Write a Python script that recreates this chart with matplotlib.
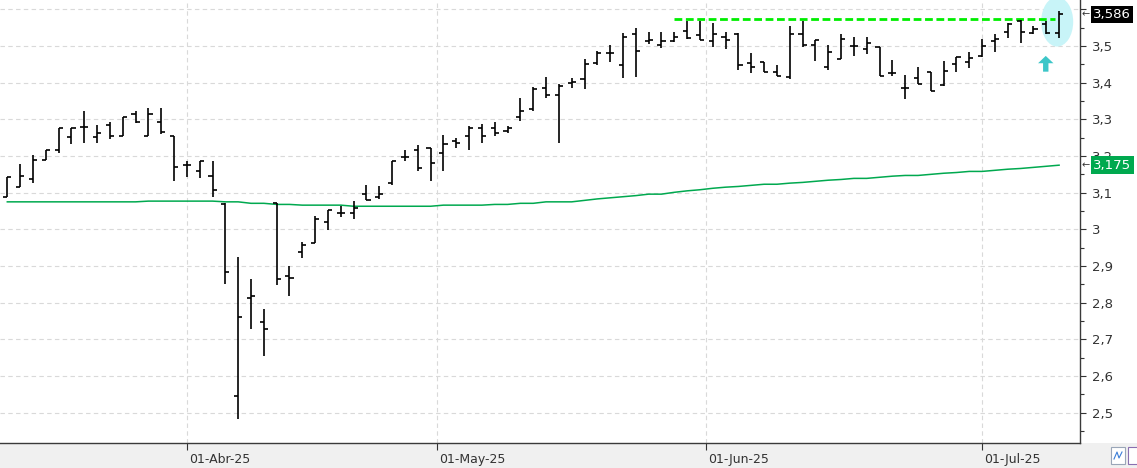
import matplotlib
matplotlib.use('Agg')
import matplotlib.pyplot as plt
import matplotlib.transforms as mtransforms
from matplotlib.patches import Ellipse, FancyArrow, Rectangle
from matplotlib.ticker import MultipleLocator, FixedLocator, FuncFormatter
import numpy as np
import pandas as pd

plt.rcParams['font.family'] = ['Liberation Sans Narrow', 'DejaVu Sans']

# ---------------- data ----------------
holidays = ['2025-04-18', '2025-04-21', '2025-05-01']
dates = pd.bdate_range('2025-03-12', '2025-07-09')
dates = dates[~dates.isin(pd.to_datetime(holidays))]

opens = [3.087, 3.116, 3.137, 3.188, 3.216, 3.251, 3.278, 3.251, 3.285, 3.254,
         3.315, 3.254, 3.292, 3.254, 3.175, 3.159, 3.145, 3.069, 2.545, 2.813,
         2.746, 3.071, 2.872, 2.937, 2.962, 3.019, 3.044, 3.044, 3.096, 3.088,
         3.126, 3.196, 3.216, 3.221, 3.207, 3.241, 3.254, 3.276, 3.276, 3.267,
         3.306, 3.327, 3.385, 3.366, 3.398, 3.409, 3.453, 3.480, 3.447, 3.533,
         3.514, 3.502, 3.513, 3.542, 3.530, 3.514, 3.524, 3.533, 3.453, 3.456,
         3.429, 3.416, 3.532, 3.503, 3.444, 3.464, 3.501, 3.491, 3.496, 3.426,
         3.385, 3.412, 3.428, 3.394, 3.450, 3.457, 3.473, 3.514, 3.537, 3.568,
         3.536, 3.560, 3.535]
highs = [3.142, 3.178, 3.202, 3.216, 3.276, 3.276, 3.323, 3.285, 3.292, 3.306,
         3.323, 3.330, 3.330, 3.254, 3.186, 3.186, 3.186, 3.071, 2.924, 2.865,
         2.783, 3.071, 2.900, 2.965, 3.036, 3.052, 3.064, 3.078, 3.121, 3.118,
         3.186, 3.216, 3.230, 3.221, 3.256, 3.248, 3.282, 3.287, 3.293, 3.282,
         3.358, 3.387, 3.416, 3.396, 3.412, 3.464, 3.487, 3.504, 3.535, 3.548,
         3.537, 3.537, 3.537, 3.569, 3.569, 3.562, 3.537, 3.535, 3.481, 3.456,
         3.447, 3.555, 3.569, 3.516, 3.504, 3.533, 3.525, 3.524, 3.496, 3.461,
         3.421, 3.442, 3.428, 3.458, 3.471, 3.484, 3.518, 3.532, 3.564, 3.571,
         3.555, 3.568, 3.595]
lows = [3.087, 3.116, 3.126, 3.188, 3.209, 3.232, 3.235, 3.236, 3.246, 3.254,
        3.291, 3.254, 3.259, 3.131, 3.142, 3.141, 3.089, 2.851, 2.484, 2.729,
        2.655, 2.849, 2.819, 2.923, 2.962, 2.999, 3.033, 3.027, 3.079, 3.082,
        3.120, 3.186, 3.160, 3.133, 3.160, 3.223, 3.216, 3.236, 3.255, 3.264,
        3.296, 3.323, 3.359, 3.236, 3.385, 3.384, 3.447, 3.456, 3.414, 3.416,
        3.505, 3.494, 3.511, 3.519, 3.515, 3.496, 3.493, 3.435, 3.426, 3.430,
        3.417, 3.409, 3.496, 3.460, 3.434, 3.464, 3.474, 3.477, 3.417, 3.419,
        3.355, 3.396, 3.377, 3.391, 3.430, 3.439, 3.471, 3.484, 3.521, 3.507,
        3.532, 3.532, 3.521]
closes = [3.142, 3.145, 3.188, 3.216, 3.276, 3.276, 3.278, 3.262, 3.255, 3.306,
          3.292, 3.315, 3.266, 3.169, 3.175, 3.186, 3.106, 2.883, 2.761, 2.817,
          2.727, 2.864, 2.867, 2.956, 3.028, 3.052, 3.044, 3.057, 3.079, 3.096,
          3.186, 3.196, 3.167, 3.180, 3.232, 3.235, 3.276, 3.254, 3.264, 3.276,
          3.322, 3.383, 3.366, 3.392, 3.402, 3.451, 3.482, 3.480, 3.524, 3.486,
          3.516, 3.513, 3.524, 3.523, 3.516, 3.533, 3.516, 3.448, 3.442, 3.430,
          3.417, 3.532, 3.503, 3.516, 3.483, 3.520, 3.501, 3.508, 3.417, 3.426,
          3.385, 3.396, 3.377, 3.433, 3.469, 3.466, 3.501, 3.519, 3.560, 3.537,
          3.546, 3.535, 3.586]
moving_avg = [3.075, 3.075, 3.075, 3.075, 3.075, 3.075, 3.075, 3.075, 3.075, 3.075,
              3.075, 3.077, 3.077, 3.077, 3.077, 3.077, 3.077, 3.075, 3.075, 3.071,
              3.071, 3.068, 3.068, 3.066, 3.066, 3.066, 3.066, 3.063, 3.063, 3.063,
              3.063, 3.063, 3.063, 3.063, 3.066, 3.066, 3.066, 3.066, 3.068, 3.068,
              3.071, 3.071, 3.075, 3.075, 3.075, 3.079, 3.083, 3.086, 3.089, 3.092,
              3.096, 3.096, 3.101, 3.105, 3.108, 3.112, 3.115, 3.117, 3.120, 3.123,
              3.123, 3.126, 3.128, 3.131, 3.134, 3.136, 3.139, 3.139, 3.142, 3.145,
              3.147, 3.147, 3.150, 3.153, 3.155, 3.158, 3.158, 3.161, 3.164, 3.166,
              3.169, 3.172, 3.175]

month_starts = ['2025-04-01', '2025-05-01', '2025-06-01', '2025-07-01']
month_labels = ['01-Abr-25', '01-May-25', '01-Jun-25', '01-Jul-25']

resistance_level = 3.574
resistance_from = '2025-05-28'

# ---------------- figure ----------------
W, H = 1137, 468
BOT = 25
fig = plt.figure(figsize=(W / 100, H / 100), dpi=100, facecolor='white')
fig.patches.append(Rectangle((0, 0), 1, BOT / H, transform=fig.transFigure,
                             fc='#f0f0f0', ec='none', zorder=-5))
ax = fig.add_axes([0, BOT / H, 1080 / W, 1 - BOT / H])
ax.set_facecolor('white')

n = len(opens)
x = np.arange(n)

# month tick positions (between bars if month start is not a trading day)
month_pos = []
for m in pd.to_datetime(month_starts):
    k = dates.searchsorted(m)
    month_pos.append(k if (k < n and dates[k] == m) else k - 0.5)

# light cyan highlight ellipse around the last bar
ax.add_patch(Ellipse((n - 1.15, 3.566), width=2.5, height=0.135,
                     fc='#c8f4f8', ec='none', zorder=1))

# moving average
ax.plot(x, moving_avg, color='#00a94f', lw=1.1, zorder=2)

# resistance dashed line
r0 = dates.searchsorted(pd.Timestamp(resistance_from))
ax.plot([r0, n - 1.3], [resistance_level, resistance_level], color='#00ee00',
        lw=2.0, dashes=(2.8, 1.3), zorder=2, solid_capstyle='butt')

# OHLC bars
lw = 1.2
ax.vlines(x, lows, highs, color='black', lw=lw, zorder=3)
ax.hlines(opens, x - 0.32, x, color='black', lw=lw, zorder=3)
ax.hlines(closes, x, x + 0.32, color='black', lw=lw, zorder=3)

# cyan arrow
ax.add_patch(FancyArrow(n - 2.04, 3.430, 0, 0.043, width=0.42, head_width=1.2,
                        head_length=0.02, length_includes_head=True,
                        fc='#3cc6c8', ec='none', zorder=4))

# axes limits
ax.set_xlim(-0.57, 83.63)
ax.set_ylim(3.5 - (H - BOT - 46) / 366.7, 3.5 + 46 / 366.7)

# spines
for s in ['left', 'top']:
    ax.spines[s].set_visible(False)
ax.spines['right'].set_color('#3a3a3a')
ax.spines['bottom'].set_color('#3a3a3a')
ax.spines['right'].set_linewidth(1.0)
ax.spines['bottom'].set_linewidth(1.0)

# y axis on right
ax.yaxis.tick_right()
ax.yaxis.set_major_locator(MultipleLocator(0.1))
ax.yaxis.set_minor_locator(MultipleLocator(0.05))


def yfmt(v, pos):
    if v > 3.55:
        return ''
    s = f"{v:.1f}".replace('.', ',')
    if s.endswith(',0'):
        s = s[:-2]
    return s


ax.yaxis.set_major_formatter(FuncFormatter(yfmt))
ax.tick_params(axis='y', which='major', direction='out', length=4.3, width=0.8,
               colors='#333333', labelsize=9.5, pad=4.5)
ax.tick_params(axis='y', which='minor', direction='out', length=2.6, width=0.8,
               colors='#333333')

# x axis
ax.xaxis.set_major_locator(FixedLocator(month_pos))
ax.set_xticklabels(month_labels)
ax.tick_params(axis='x', which='major', direction='out', length=5, width=0.8,
               colors='#333333', labelsize=9, pad=2)
offset = mtransforms.ScaledTranslation(2 / 100, 0, fig.dpi_scale_trans)
for lab in ax.get_xticklabels():
    lab.set_horizontalalignment('left')
    lab.set_transform(lab.get_transform() + offset)

# grid
ax.grid(True, which='major', axis='both', color='#d9d9d9', lw=0.8,
        linestyle=(0, (4, 3)), zorder=0)
ax.set_axisbelow(True)

# last value labels
trans = mtransforms.blended_transform_factory(ax.transAxes, ax.transData)
xlab = 1093 / 1080
ax.text(xlab, closes[-1], f"{closes[-1]:.3f}".replace('.', ','), transform=trans,
        color='white', fontsize=9.5, va='center', ha='left', clip_on=False, zorder=10,
        bbox=dict(boxstyle='square,pad=0.18', fc='black', ec='none'))
ax.text(xlab, moving_avg[-1], f"{moving_avg[-1]:.3f}".replace('.', ','), transform=trans,
        color='white', fontsize=9.5, va='center', ha='left', clip_on=False, zorder=10,
        bbox=dict(boxstyle='square,pad=0.18', fc='#00a94f', ec='none'))
for v in (closes[-1], moving_avg[-1]):
    ax.text(1082 / 1080, v, '←', transform=trans, color='#333333', fontsize=7,
            va='center', ha='left', clip_on=False, zorder=10, family=['DejaVu Sans'])

# bottom-right small icons
fig.patches.append(Rectangle((1111 / W, 4 / H), 14 / W, 17 / H, transform=fig.transFigure,
                             fc='white', ec='#9aa6b8', lw=0.8))
fig.lines.append(plt.Line2D([1114 / W, 1117 / W, 1119 / W, 1122 / W],
                            [9 / H, 16 / H, 10 / H, 16 / H], transform=fig.transFigure,
                            color='#3b7dd8', lw=0.8))
fig.patches.append(Rectangle((1128 / W, 4 / H), 14 / W, 17 / H, transform=fig.transFigure,
                             fc='white', ec='#8a6fb0', lw=0.8))

fig.savefig('out.png', dpi=100, facecolor=fig.get_facecolor())
